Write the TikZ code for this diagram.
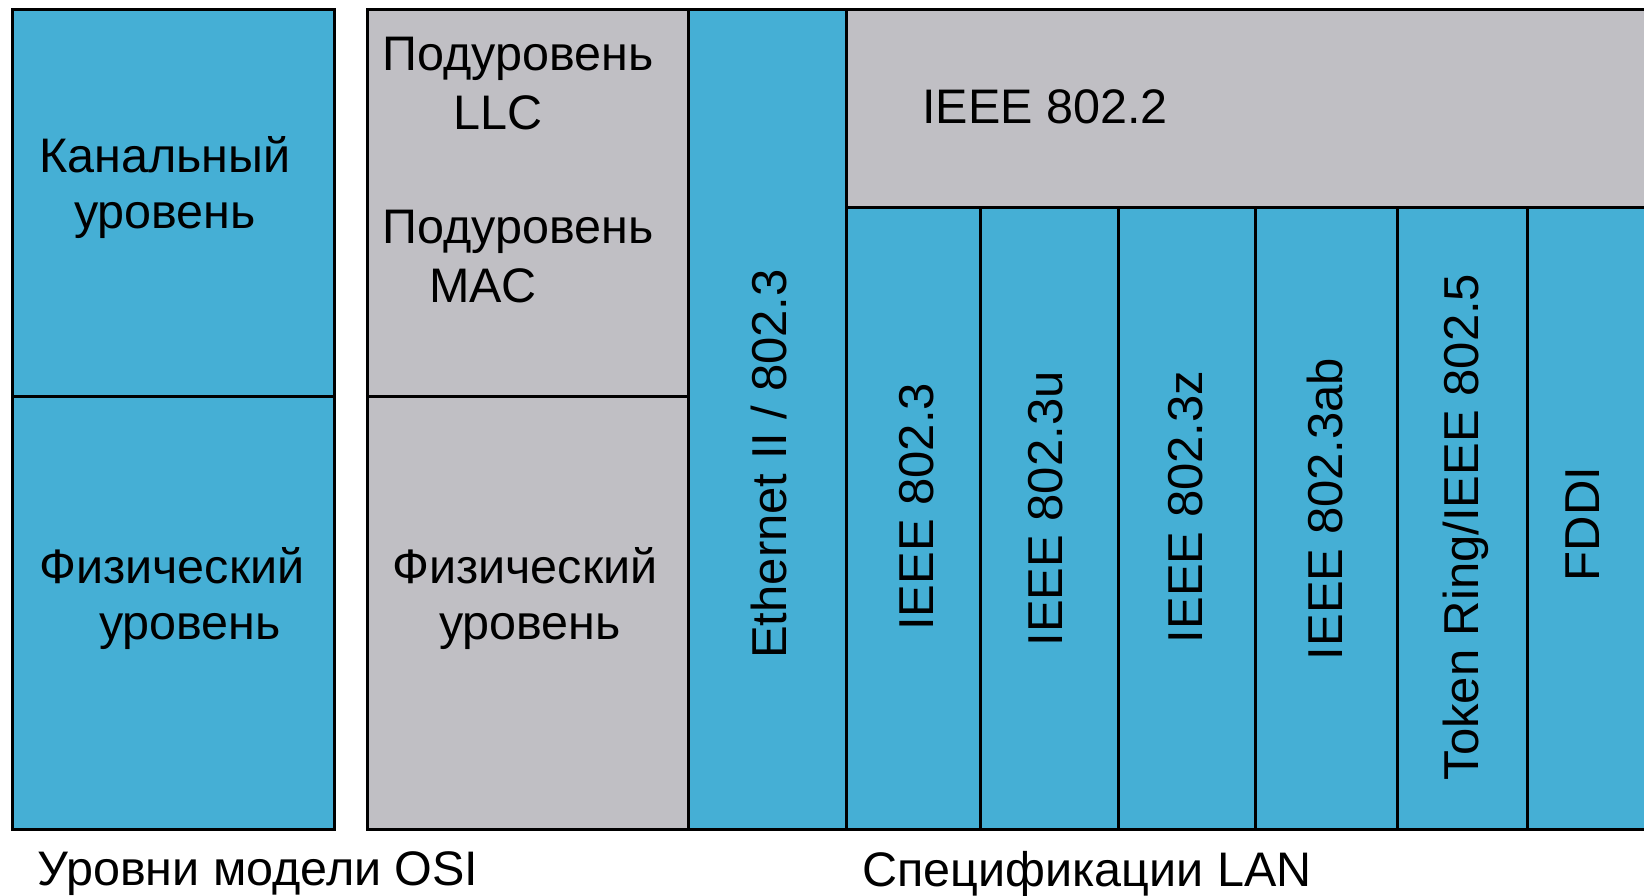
\documentclass[tikz,border=0pt]{standalone}
\usepackage{fontspec}
\setmainfont{Liberation Sans}
\definecolor{cblue}{HTML}{45AFD5}
\definecolor{cgray}{HTML}{C0BFC4}
\begin{document}
\begin{tikzpicture}[x=1pt,y=-1pt,
  box/.style={draw=black,line width=2.6pt,inner sep=0pt,anchor=north west},
  bluebox/.style={box,fill=cblue},
  graybox/.style={box,fill=cgray},
  lbl/.style={inner sep=0pt,font=\fontsize{48.5}{54}\selectfont},
  vlbl/.style={inner sep=0pt,rotate=90,font=\fontsize{49}{55}\selectfont}]
\useasboundingbox (0,0) rectangle (1644,896);
\clip (0,0) rectangle (1644,896);
\fill[white] (0,0) rectangle (1644,896);
% OSI column
\node[bluebox,minimum width=322pt,minimum height=387pt] (osiL) at (11,8) {};
\node[bluebox,minimum width=322pt,minimum height=433pt] (osiP) at (11,395) {};
% sublayers
\node[graybox,minimum width=321pt,minimum height=387pt] (sub) at (366,8) {};
\node[graybox,minimum width=321pt,minimum height=433pt] (phys) at (366,395) {};
% Ethernet
\node[bluebox,minimum width=158pt,minimum height=820pt] (eth) at (687,8) {};
% IEEE 802.2
\node[graybox,minimum width=830pt,minimum height=198pt] (llc) at (845,8) {};
% columns
\node[bluebox,minimum width=134pt,minimum height=622pt] (c1) at (845,206) {};
\node[bluebox,minimum width=138pt,minimum height=622pt] (c2) at (979,206) {};
\node[bluebox,minimum width=137pt,minimum height=622pt] (c3) at (1117,206) {};
\node[bluebox,minimum width=142pt,minimum height=622pt] (c4) at (1254,206) {};
\node[bluebox,minimum width=130pt,minimum height=622pt] (c5) at (1396,206) {};
\node[bluebox,minimum width=150pt,minimum height=622pt] (c6) at (1526,206) {};
% texts
\node[lbl] (t1) at (165,155) {Канальный};
\node[lbl] (t2) at (165,220) {уровень};
\node[lbl] (t3) at (172,566) {Физический};
\node[lbl] (t4) at (190,631) {уровень};
\node[lbl] (t5) at (518,59) {Подуровень};
\node[lbl] (t6) at (498,113) {LLC};
\node[lbl] (t7) at (518,232) {Подуровень};
\node[lbl] (t8) at (483,286) {MAC};
\node[lbl] (t9) at (525,566) {Физический};
\node[lbl] (t10) at (530,631) {уровень};
\node[lbl] (t11) at (1045,107) {IEEE 802.2};
\node[vlbl] (v1) at (769,464) {Ethernet II / 802.3};
\node[vlbl] (v2) at (917,507) {IEEE 802.3};
\node[vlbl] (v3) at (1046,509) {IEEE 802.3u};
\node[vlbl] (v4) at (1186,507) {IEEE 802.3z};
\node[vlbl] (v5) at (1325,509) {IEEE 802.3ab};
\node[vlbl] (v6) at (1466,527) {Token Ring/IEEE 802.5};
\node[vlbl] (v7) at (1583,524) {FDDI};
\node[lbl] (b1) at (258,874) {Уровни модели OSI};
\node[lbl] (b2) at (1087,874) {Спецификации LAN};
\end{tikzpicture}
\end{document}
